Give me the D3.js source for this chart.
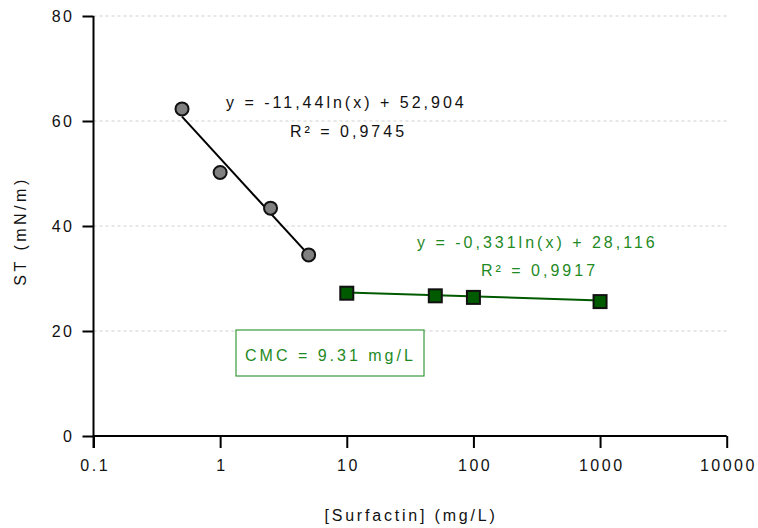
<!DOCTYPE html>
<html>
<head>
<meta charset="utf-8">
<script src="https://cdn.jsdelivr.net/npm/d3@7"></script>
<style>
  html, body { margin: 0; padding: 0; background: #fff; }
  svg text { font-family: "Liberation Sans", Arial, sans-serif; }
</style>
</head>
<body>
<svg id="chart" width="758" height="528"></svg>
<script>
// Surface tension vs surfactin concentration
const belowCmcConc = [0.5, 1, 2.5, 5];
const belowCmcST   = [62.3, 50.2, 43.4, 34.5];
const aboveCmcConc = [10, 50, 100, 1000];
const aboveCmcST   = [27.2, 26.7, 26.4, 25.6];

// Logarithmic fits: y = a*ln(x) + b
const fitBelow = { a: -11.44, b: 52.904, from: 0.5, to: 5 };
const fitAbove = { a: -0.331, b: 28.116, from: 10, to: 1000 };

const xTicks = [0.1, 1, 10, 100, 1000, 10000];
const xTickLabels = ["0.1", "1", "10", "100", "1000", "10000"];
const yTicks = [0, 20, 40, 60, 80];

const svg = d3.select("#chart");
const x = d3.scaleLog().domain([0.1, 10000]).range([93.5, 726.7]);
const y = d3.scaleLinear().domain([0, 80]).range([436, 16]);

const green = "#1f8a1f";
const darkGreen = "#005a00";
const FONT = "'Liberation Sans', Arial, sans-serif";

// dashed gridlines
svg.append("g").selectAll("line")
  .data(yTicks.filter(d => d > 0))
  .join("line")
  .attr("x1", x(0.1)).attr("x2", x(10000))
  .attr("y1", d => y(d)).attr("y2", d => y(d))
  .attr("stroke", "#cfcfcf").attr("stroke-width", 1)
  .attr("stroke-dasharray", "3,3");

// axes
const xAxis = svg.append("g")
  .attr("transform", `translate(0,${y(0)})`)
  .call(d3.axisBottom(x).tickValues(xTicks)
    .tickFormat((d, i) => xTickLabels[i]).tickSize(12).tickPadding(12));
const yAxis = svg.append("g")
  .attr("transform", `translate(${x(0.1)},0)`)
  .call(d3.axisLeft(y).tickValues(yTicks).tickSize(11).tickPadding(8));

[xAxis, yAxis].forEach(g => {
  g.select(".domain").attr("stroke", "#000").attr("stroke-width", 2);
  g.selectAll(".tick line").attr("stroke", "#000").attr("stroke-width", 2);
  g.selectAll(".tick text")
    .attr("fill", "#111").style("font-size", "16px")
    .style("letter-spacing", "2.5px")
    .style("font-family", FONT);
});
xAxis.selectAll(".tick text").attr("dx", "1.2px");
xAxis.select(".domain").attr("d", `M${x(0.1)},0H${x(10000)}`);
yAxis.select(".domain").attr("d", `M0,${y(80)}V${y(0) + 12}`);

// axis titles
svg.append("text")
  .attr("x", 411).attr("y", 521)
  .attr("text-anchor", "middle")
  .style("font-size", "16px").style("letter-spacing", "2.8px")
  .attr("fill", "#111")
  .text("[Surfactin] (mg/L)");
svg.append("text")
  .attr("transform", "translate(26,231) rotate(-90)")
  .attr("text-anchor", "middle")
  .style("font-size", "16px").style("letter-spacing", "3.5px")
  .attr("fill", "#111")
  .text("ST (mN/m)");

// trend lines
function fitLine(f) {
  return [[f.from, f.a * Math.log(f.from) + f.b], [f.to, f.a * Math.log(f.to) + f.b]];
}
const line = d3.line().x(d => x(d[0])).y(d => y(d[1]));
svg.append("path").attr("d", line(fitLine(fitBelow)))
  .attr("stroke", "#000").attr("stroke-width", 2).attr("fill", "none");
svg.append("path").attr("d", line(fitLine(fitAbove)))
  .attr("stroke", darkGreen).attr("stroke-width", 2).attr("fill", "none");

// points below CMC
svg.append("g").selectAll("circle")
  .data(belowCmcConc.map((c, i) => [c, belowCmcST[i]]))
  .join("circle")
  .attr("cx", d => x(d[0])).attr("cy", d => y(d[1]))
  .attr("r", 6.5)
  .attr("fill", "#808080").attr("stroke", "#111").attr("stroke-width", 2);

// points above CMC
const sq = 13;
svg.append("g").selectAll("rect")
  .data(aboveCmcConc.map((c, i) => [c, aboveCmcST[i]]))
  .join("rect")
  .attr("x", d => x(d[0]) - sq / 2).attr("y", d => y(d[1]) - sq / 2)
  .attr("width", sq).attr("height", sq)
  .attr("fill", darkGreen).attr("stroke", "#111").attr("stroke-width", 2);

// fit equations
function label(txt, xPos, yPos, color) {
  svg.append("text").attr("x", xPos).attr("y", yPos)
    .style("font-size", "16px").style("letter-spacing", "3px")
    .attr("fill", color).text(txt);
}
label("y = -11,44ln(x) + 52,904", 226, 108, "#111");
label("R² = 0,9745", 290, 137, "#111");
label("y = -0,331ln(x) + 28,116", 417, 248, green);
label("R² = 0,9917", 481, 276, green);

// CMC annotation box
svg.append("rect")
  .attr("x", 236).attr("y", 330).attr("width", 188).attr("height", 46)
  .attr("fill", "#fff").attr("stroke", "#3a9a3a").attr("stroke-width", 1.2);
svg.append("text")
  .attr("x", 245).attr("y", 361)
  .style("font-size", "16px").style("letter-spacing", "3px")
  .attr("fill", green).text("CMC = 9.31 mg/L");
</script>
</body>
</html>
